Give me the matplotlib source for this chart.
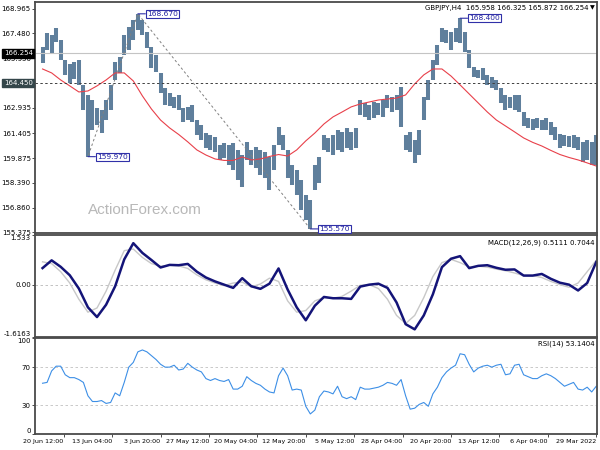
import numpy as np
import matplotlib
matplotlib.use("Agg")
import matplotlib.pyplot as plt
from matplotlib.transforms import blended_transform_factory

# GBPJPY H4, oldest bar first (29 Mar 2022). one value every 3 bars
highs = [161.29, 160.86, 160.99, 160.86, 161.17, 161.29, 161.23, 161.29, 161.35, 161.78,
	162.08, 162.32, 162.20, 162.32, 162.26, 162.32, 162.69, 163.72, 163.72, 163.60,
	163.72, 164.15, 164.64, 164.82, 164.94, 165.37, 165.25, 165.43, 166.47, 167.56,
	168.40, 167.81, 167.56, 167.69, 167.81, 166.77, 165.86, 164.64, 163.60, 161.60,
	160.99, 161.47, 161.29, 164.21, 163.72, 163.60, 163.72, 163.42, 163.24, 163.30,
	163.12, 163.24, 163.42, 161.72, 161.47, 161.72, 161.47, 161.60, 161.29, 161.11,
	161.29, 159.95, 159.46, 157.33, 157.64, 158.55, 159.16, 159.46, 160.38, 161.29,
	161.78, 160.68, 159.95, 160.26, 160.38, 160.56, 160.38, 160.86, 160.07, 160.38,
	160.80, 160.68, 160.80, 160.68, 161.17, 161.29, 161.41, 161.90, 162.20, 163.12,
	163.00, 162.93, 163.72, 163.60, 163.85, 164.15, 165.07, 166.16, 166.65, 167.56,
	168.30, 168.67, 168.30, 167.87, 167.38, 166.04, 165.74, 164.33, 163.42, 162.81,
	162.93, 163.42, 163.72, 164.33, 165.86, 165.74, 165.62, 165.86, 167.08, 167.81,
	167.38, 167.50, 166.65]
lows = [159.46, 159.46, 159.77, 159.64, 160.38, 160.50, 160.56, 160.62, 160.50, 160.99,
	161.29, 161.60, 161.60, 161.72, 161.60, 161.72, 161.84, 162.69, 162.81, 162.93,
	162.81, 163.24, 164.03, 164.15, 164.33, 164.64, 164.76, 164.82, 165.37, 166.35,
	166.90, 166.96, 166.47, 166.90, 166.96, 165.55, 164.64, 163.42, 162.20, 160.07,
	159.59, 160.26, 160.38, 161.78, 162.81, 162.69, 162.93, 162.39, 162.51, 162.32,
	162.20, 162.39, 162.51, 160.50, 160.38, 160.50, 160.26, 160.38, 160.07, 160.26,
	160.38, 158.37, 157.94, 155.57, 156.11, 156.72, 157.64, 158.24, 158.67, 160.38,
	160.68, 159.16, 157.94, 158.67, 158.85, 159.28, 159.46, 159.77, 158.12, 158.55,
	159.16, 159.46, 159.89, 159.77, 160.26, 160.38, 160.50, 160.99, 161.29, 162.08,
	162.20, 162.08, 162.81, 162.93, 163.06, 163.12, 163.85, 165.13, 165.37, 166.59,
	167.38, 167.69, 167.08, 166.47, 166.16, 165.07, 164.64, 162.81, 162.20, 161.41,
	161.90, 161.60, 159.97, 162.81, 164.33, 164.70, 164.45, 164.94, 165.86, 166.96,
	166.23, 166.47, 165.68]

# moving average, macd and signal: one value every 6 bars
ma = [159.40, 159.59, 159.77, 159.92, 160.10, 160.35, 160.62, 160.84, 161.11, 161.48,
	161.84, 162.20, 162.69, 163.24, 163.79, 164.34, 164.88, 165.31, 165.31, 164.95,
	164.40, 163.73, 163.54, 163.48, 163.42, 163.30, 163.18, 163.00, 162.69, 162.39,
	161.96, 161.41, 160.93, 160.38, 160.01, 160.10, 159.98, 159.83, 159.77, 159.95,
	159.74, 159.74, 159.83, 160.07, 160.38, 160.87, 161.32, 161.72, 162.20, 162.87,
	163.67, 164.58, 165.07, 165.07, 164.64, 164.28, 163.97, 163.91, 164.28, 164.64,
	165.07, 165.31]
macd = [0.70, 0.05, -0.18, 0.00, 0.06, 0.18, 0.33, 0.28, 0.28, 0.47,
	0.46, 0.52, 0.60, 0.58, 0.51, 0.88, 0.80, 0.54, -0.30, -0.95,
	-1.38, -1.22, -0.55, -0.10, 0.03, 0.00, -0.06, -0.44, -0.42, -0.42,
	-0.38, -0.65, -1.10, -0.70, -0.15, 0.50, 0.03, -0.13, -0.05, 0.20,
	-0.10, 0.00, 0.10, 0.22, 0.40, 0.64, 0.60, 0.61, 0.53, 0.76,
	0.98, 1.28, 0.78, -0.05, -0.62, -1.00, -0.70, -0.12, 0.29, 0.55,
	0.75, 0.5111]
signal = [0.75, 0.40, 0.05, -0.08, 0.00, 0.10, 0.22, 0.28, 0.28, 0.36,
	0.43, 0.48, 0.54, 0.57, 0.55, 0.68, 0.78, 0.68, 0.25, -0.40,
	-0.95, -1.20, -0.95, -0.45, -0.12, 0.00, -0.02, -0.20, -0.36, -0.42,
	-0.40, -0.50, -0.80, -0.85, -0.50, 0.10, 0.20, 0.02, -0.07, 0.08,
	0.05, -0.03, 0.05, 0.15, 0.30, 0.50, 0.58, 0.60, 0.57, 0.65,
	0.84, 1.10, 1.05, 0.45, -0.20, -0.72, -0.85, -0.45, 0.05, 0.40,
	0.65, 0.7044]

# rsi(14): one value every 3 bars
rsi = [50, 44, 49, 46, 47, 54, 52, 50, 54, 58, 61, 63, 61, 58, 58, 60, 62, 73, 72, 63,
	62, 73, 72, 70, 72, 71, 69, 65, 73, 83, 84, 72, 69, 65, 59, 49, 42, 29, 33, 31,
	27, 26, 40, 57, 51, 53, 54, 51, 49, 48, 47, 47, 49, 36, 39, 37, 39, 50, 42, 44,
	45, 39, 25, 21, 29, 46, 47, 46, 61, 69, 61, 43, 44, 47, 51, 53, 56, 60, 50, 47,
	47, 57, 55, 56, 58, 56, 58, 65, 67, 70, 74, 68, 67, 72, 70, 70, 73, 78, 82, 86,
	88, 86, 75, 70, 54, 40, 43, 33, 32, 35, 34, 34, 40, 54, 57, 59, 59, 62, 71, 71,
	66, 54, 53.1404]

# zigzag pivots (bar number, price)
pivot_bars = [90, 189, 303, 336]
pivot_prices = [168.400, 155.570, 168.670, 159.970]

price_ticks = [168.965, 167.480, 165.950, 162.935, 161.405, 159.875, 158.390, 156.860, 155.375]
date_labels = ["29 Mar 2022", "6 Apr 04:00", "13 Apr 12:00", "20 Apr 20:00", "28 Apr 04:00",
	"5 May 12:00", "12 May 20:00", "20 May 04:00", "27 May 12:00", "3 Jun 20:00",
	"13 Jun 04:00", "20 Jun 12:00"]
bars_per_label = 32

last_price = 166.254
level = 164.450

plt.rcParams['font.family'] = ['DejaVu Sans']
FS = 5.0
FRAME = '#4a4a4a'


def style_axis(ax):
	ax.set_xlim(371, -0.5)
	for s in ax.spines.values():
		s.set_color(FRAME)
		s.set_linewidth(1.3)
	ax.tick_params(axis='y', labelsize=FS, length=2.0, pad=1.0, width=0.7, color=FRAME)
	ax.tick_params(axis='x', bottom=False, labelbottom=False)


fig = plt.figure(figsize=(6, 4.5), dpi=100)
ax1 = fig.add_axes([0.0583, 0.4822, 0.9367, 0.5134])
ax2 = fig.add_axes([0.0583, 0.2511, 0.9367, 0.2267])
ax3 = fig.add_axes([0.0583, 0.0356, 0.9367, 0.2122])
for ax in (ax1, ax2, ax3):
	style_axis(ax)

# price panel
xb = np.arange(len(highs)) * 3
ax1.vlines(xb, lows, highs, color='#5f7f9c', lw=2.9)
ax1.plot(np.arange(len(ma)) * 6, ma, color='#e8404a', lw=0.8)
ax1.axhline(last_price, color='#c4c4c4', lw=0.8)
ax1.axhline(level, color='#404040', lw=0.7, ls=(0, (2.5, 2.5)))
ax1.plot(pivot_bars[1:], pivot_prices[1:], color='#808080', lw=0.7, ls=(0, (2.5, 2.5)))
for b, p in zip(pivot_bars, pivot_prices):
	ax1.annotate("%.3f" % p, xy=(b, p), xytext=(9, 0), textcoords='offset pixels',
		ha='left', va='center', fontsize=FS + 0.4, color='#2020a0',
		bbox=dict(boxstyle='square,pad=0.15', fc='white', ec='#3030a8', lw=0.8),
		arrowprops=dict(arrowstyle='-', color='#3030a8', lw=0.8, shrinkA=0, shrinkB=0))
ax1.set_ylim(155.32, 169.39)
ax1.set_yticks(price_ticks)
ax1.set_yticklabels(["%.3f" % t for t in price_ticks])

trans = blended_transform_factory(ax1.transAxes, ax1.transData)
ax1.text(-0.004, last_price, "%.3f" % last_price, transform=trans, ha='right', va='center',
	fontsize=FS, color='white', bbox=dict(boxstyle='square,pad=0.2', fc='black', ec='black'))
ax1.text(-0.004, level, "%.3f" % level, transform=trans, ha='right', va='center',
	fontsize=FS, color='white', bbox=dict(boxstyle='square,pad=0.2', fc='#34464a', ec='#34464a'))

ax1.text(0.984, 0.974, "GBPJPY,H4  165.958 166.325 165.872 166.254", transform=ax1.transAxes,
	ha='right', va='center', fontsize=FS)
ax1.text(0.996, 0.974, "\u25bc", transform=ax1.transAxes, ha='right', va='center', fontsize=4.5)
fig.text(0.147, 0.533, "ActionForex.com", ha='left', va='center', fontsize=11,
	color='#b8b8b8', family='Liberation Sans')

# macd panel
xm = np.arange(len(macd)) * 6
ax2.axhline(0, color='#b8b8b8', lw=0.6, ls=(0, (3, 3)))
ax2.plot(xm, signal, color='#c8c8c8', lw=1.0)
ax2.plot(xm, macd, color='#141478', lw=1.8)
ax2.set_ylim(-1.6163, 1.533)
ax2.set_yticks([1.533, 0, -1.6163])
ax2.set_yticklabels(["1.533", "0.00", "-1.6163"])
tl = ax2.get_yticklabels()
tl[0].set_va('top')
tl[2].set_va('bottom')
ax2.text(0.996, 0.92, "MACD(12,26,9) 0.5111 0.7044", transform=ax2.transAxes,
	ha='right', va='center', fontsize=FS)

# rsi panel
xr = np.arange(len(rsi)) * 3
for v in (70, 30):
	ax3.axhline(v, color='#c0c0c0', lw=0.6, ls=(0, (3, 3)))
ax3.plot(xr, rsi, color='#3d8fe6', lw=0.8)
ax3.set_ylim(0, 100)
ax3.set_yticks([100, 70, 30, 0])
ax3.set_yticklabels(["100", "70", "30", "0"])
tl = ax3.get_yticklabels()
tl[0].set_va('top')
tl[3].set_va('bottom')
ax3.text(0.996, 0.95, "RSI(14) 53.1404", transform=ax3.transAxes,
	ha='right', va='center', fontsize=FS)

ax3.tick_params(axis='x', bottom=True, labelbottom=True, labelsize=4.6, length=2.0,
	pad=1.5, width=0.7, color=FRAME)
ax3.set_xticks(np.arange(len(date_labels)) * bars_per_label)
ax3.set_xticklabels(date_labels, ha='right')

fig.savefig("out.png", dpi=100)
